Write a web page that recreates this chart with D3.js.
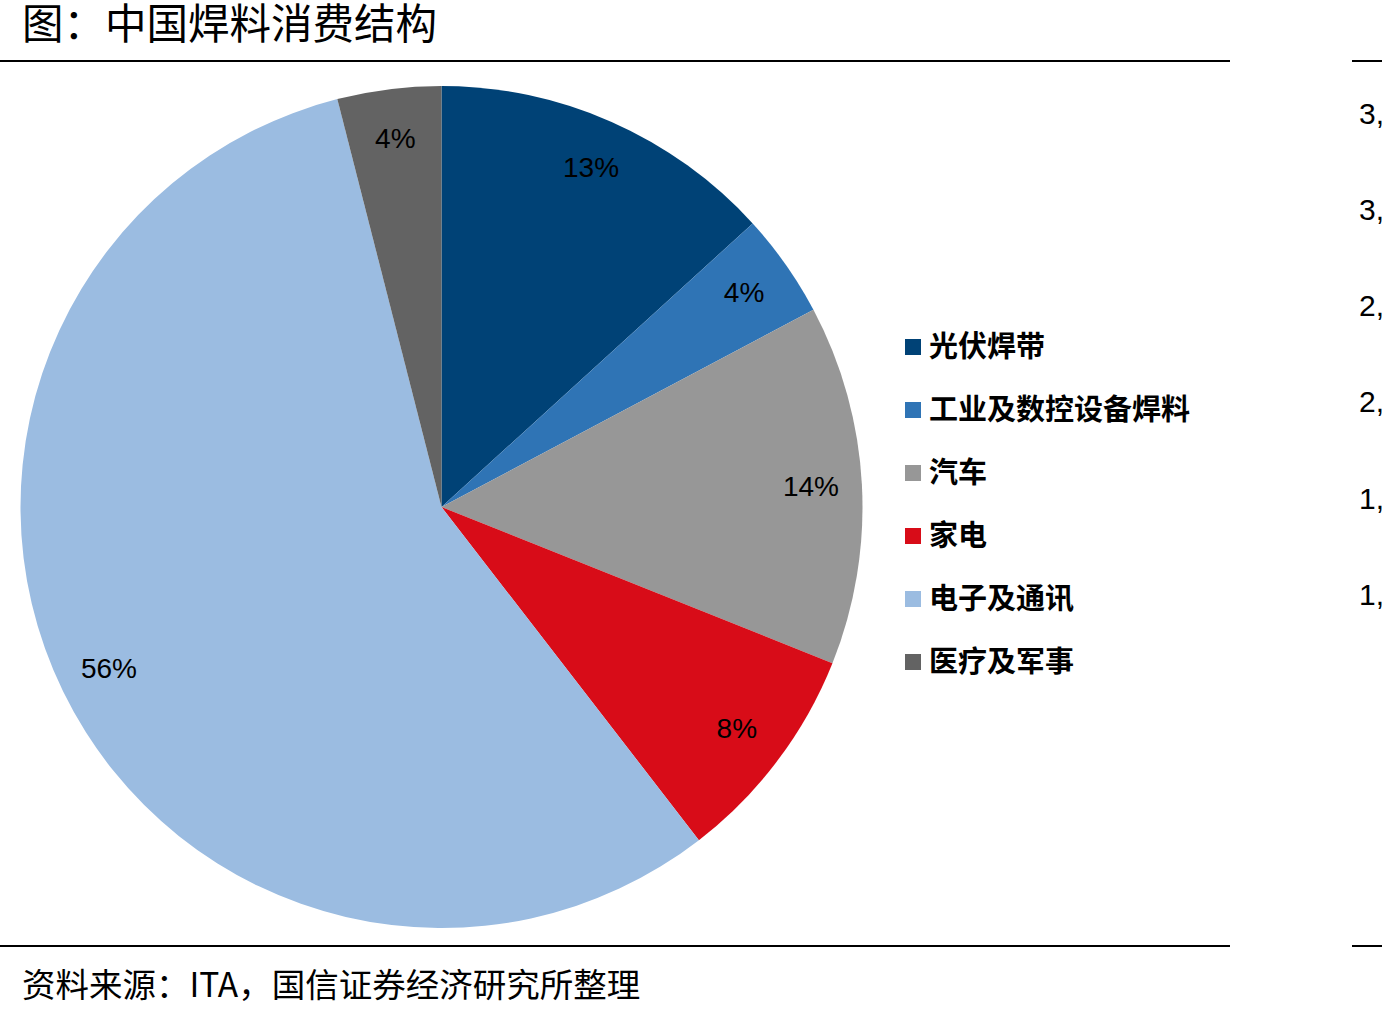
<!DOCTYPE html>
<html lang="zh">
<head>
<meta charset="UTF-8">
<title>中国焊料消费结构</title>
<script src="https://cdn.jsdelivr.net/npm/d3@7/dist/d3.min.js"></script>
<style>
    body { margin: 0; background: #fff; overflow: hidden; }
    svg { display: block; }
</style>
</head>
<body>
<script>
    // chart data
    const categories = ["光伏焊带", "工业及数控设备焊料", "汽车", "家电", "电子及通讯", "医疗及军事"];
    const shares = [13.24, 4.0, 13.81, 8.48, 56.49, 3.98];
    const colors = ["#004276", "#2F74B5", "#979797", "#D80C18", "#9BBCE1", "#636363"];
    // neighbouring chart's axis labels, cut off at the page edge
    const sideTicks = ["3,500", "3,000", "2,500", "2,000", "1,500", "1,000"];

    const width = 1382, height = 1016;
    const cx = 441.5, cy = 507, radius = 421;

    const svg = d3.select("body").append("svg")
        .attr("width", width)
        .attr("height", height);

    const cjk = "'Noto Sans CJK SC', 'Noto Sans', sans-serif";
    const latin = "'Liberation Sans', Arial, sans-serif";

    // title and rules
    svg.append("text")
        .attr("x", 22).attr("y", 39)
        .style("font-family", cjk)
        .style("font-size", "41.5px")
        .style("fill", "#000")
        .text("图：中国焊料消费结构");

    [[0, 1230], [1352, 1382]].forEach(([x1, x2]) => {
        [61, 946].forEach(y => {
            svg.append("line")
                .attr("x1", x1).attr("x2", x2)
                .attr("y1", y).attr("y2", y)
                .attr("stroke", "#000")
                .attr("stroke-width", 2);
        });
    });

    svg.append("text")
        .attr("x", 22).attr("y", 997)
        .style("font-family", cjk)
        .style("font-size", "33.5px")
        .style("fill", "#000")
        .text("资料来源：ITA，国信证券经济研究所整理");

    // pie
    const pie = d3.pie().sort(null).value(d => d);
    const arcs = pie(shares);
    const arc = d3.arc().innerRadius(0).outerRadius(radius);
    const labelArc = d3.arc().innerRadius(370).outerRadius(370);

    const g = svg.append("g").attr("transform", `translate(${cx},${cy})`);

    g.selectAll("path")
        .data(arcs)
        .enter().append("path")
        .attr("d", arc)
        .attr("fill", (d, i) => colors[i]);

    g.selectAll("text.pct")
        .data(arcs)
        .enter().append("text")
        .attr("class", "pct")
        .attr("transform", d => `translate(${labelArc.centroid(d)})`)
        .attr("text-anchor", "middle")
        .attr("dy", "0.3em")
        .style("font-family", latin)
        .style("font-size", "28px")
        .style("fill", "#000")
        .text(d => Math.round(d.data) + "%");

    // legend
    const legend = svg.append("g").attr("transform", "translate(905,347)");
    const row = legend.selectAll("g")
        .data(categories)
        .enter().append("g")
        .attr("transform", (d, i) => `translate(0,${i * 63})`);

    row.append("rect")
        .attr("x", 0).attr("y", -8)
        .attr("width", 16).attr("height", 16)
        .attr("fill", (d, i) => colors[i]);

    row.append("text")
        .attr("x", 24)
        .attr("dy", "0.36em")
        .style("font-family", cjk)
        .style("font-size", "29px")
        .style("font-weight", "bold")
        .style("fill", "#000")
        .text(d => d);

    // clipped axis labels of the next chart
    svg.selectAll("text.side")
        .data(sideTicks)
        .enter().append("text")
        .attr("class", "side")
        .attr("x", 1359)
        .attr("y", (d, i) => 113 + i * 96.2)
        .attr("dy", "0.36em")
        .style("font-family", latin)
        .style("font-size", "30px")
        .style("fill", "#000")
        .text(d => d);
</script>
</body>
</html>
